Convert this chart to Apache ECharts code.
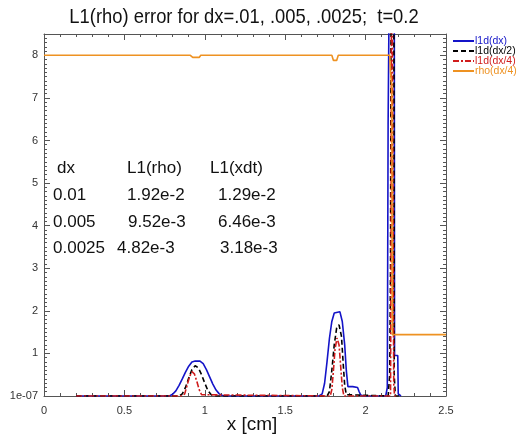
<!DOCTYPE html>
<html><head><meta charset="utf-8">
<script src="https://cdn.jsdelivr.net/npm/echarts@6/dist/echarts.min.js"></script>
<style>html,body{margin:0;padding:0;background:#fff}#c{width:517px;height:442px}</style>
</head><body><div id="c"></div>
<script>
// ---- data ----
const titleText = 'L1(rho) error for dx=.01, .005, .0025;  t=0.2';
const xName = 'x [cm]';
const seriesNames = ['l1d(dx)', 'l1d(dx/2)', 'l1d(dx/4)', 'rho(dx/4)'];
const xTicks = [0, 0.5, 1, 1.5, 2, 2.5];
const yTicks = [0, 1, 2, 3, 4, 5, 6, 7, 8];
const yZeroLabel = '1e-07';
const tableRows = [
  ['dx', 'L1(rho)', 'L1(xdt)'],
  ['0.01', '1.92e-2', '1.29e-2'],
  ['0.005', '9.52e-3', '6.46e-3'],
  ['0.0025', '4.82e-3', '3.18e-3']
];
const l1dDx = [[0.2,0],[0.78,0],[0.80,0.04],[0.82,0.12],[0.84,0.25],[0.86,0.4],[0.88,0.56],[0.90,0.7],[0.92,0.8],[0.94,0.82],[0.97,0.82],[0.99,0.76],[1.01,0.62],[1.03,0.45],[1.05,0.28],[1.07,0.14],[1.09,0.05],[1.11,0.01],[1.13,0],[1.71,0],[1.73,0.05],[1.745,0.3],[1.76,0.8],[1.775,1.35],[1.79,1.75],[1.805,1.95],[1.815,1.98],[1.84,1.98],[1.855,1.75],[1.87,1.2],[1.88,0.6],[1.89,0.22],[1.90,0.2],[1.92,0.22],[1.95,0.2],[1.96,0.1],[1.97,0.02],[1.99,0],[2.125,0],[2.135,0.2],[2.14,6.38],[2.15,6.38],[2.152,12],[2.178,12],[2.18,0.95],[2.2,0.95],[2.203,0.05],[2.22,0]];
const l1dDx2 = [[0.2,0],[0.84,0],[0.86,0.05],[0.88,0.2],[0.90,0.42],[0.92,0.62],[0.94,0.71],[0.96,0.66],[0.98,0.5],[1.00,0.3],[1.02,0.12],[1.04,0.03],[1.06,0],[1.76,0],[1.775,0.1],[1.79,0.6],[1.805,1.2],[1.82,1.6],[1.835,1.67],[1.85,1.4],[1.86,0.8],[1.87,0.25],[1.88,0.03],[1.89,0],[2.14,0],[2.15,0.5],[2.155,3],[2.16,12],[2.175,12],[2.178,0.5],[2.185,0],[2.22,0]];
const l1dDx4 = [[0.2,0],[0.86,0],[0.875,0.05],[0.89,0.25],[0.905,0.45],[0.92,0.57],[0.935,0.52],[0.95,0.35],[0.965,0.15],[0.98,0.03],[0.99,0],[1.78,0],[1.79,0.15],[1.80,0.6],[1.81,1.1],[1.822,1.36],[1.835,1.2],[1.845,0.7],[1.855,0.2],[1.865,0],[2.155,0],[2.158,3],[2.162,12],[2.172,12],[2.175,0.3],[2.18,0],[2.2,0]];
const rhoDx4 = [[0,8],[0.91,8],[0.925,7.95],[0.965,7.95],[0.975,8],[1.79,8],[1.80,7.88],[1.82,7.88],[1.83,8],[2.15,8],[2.155,7.6],[2.163,7.3],[2.166,1.44],[2.5,1.44]];
const colors = ['#1414c8', '#000000', '#d01c1c', '#ee9222'];

// ---- chart ----
const chart = echarts.init(document.getElementById('c'), null, {renderer: 'canvas'});
const axisCol = '#555';
const FONT = 'Liberation Sans';
const baseX = {
  type: 'value', min: 0, max: 2.5, interval: 0.5,
  axisLine: {show: true, onZero: false, lineStyle: {color: axisCol, width: 1}},
  axisTick: {show: true, inside: true, length: 6, lineStyle: {color: axisCol}},
  minorTick: {show: true, splitNumber: 5, length: 3, lineStyle: {color: axisCol}},
  splitLine: {show: false}
};
const baseY = {
  type: 'value', min: 0, max: 8.5, interval: 1,
  axisLine: {show: true, onZero: false, lineStyle: {color: axisCol, width: 1}},
  axisTick: {show: true, inside: true, length: 6, lineStyle: {color: axisCol}},
  minorTick: {show: true, splitNumber: 10, length: 3, lineStyle: {color: axisCol}},
  splitLine: {show: false}
};
const lbl = {fontFamily: FONT, fontSize: 11, color: '#333'};
const dataSets = [l1dDx, l1dDx2, l1dDx4, rhoDx4];
const lineTypes = ['solid', [5, 3], [6, 2, 2, 2], 'solid'];
const series = dataSets.map((d, i) => ({
  name: seriesNames[i], type: 'line', data: d, symbol: 'none', showSymbol: false,
  clip: true, animation: false,
  lineStyle: {color: colors[i], width: 1.6, type: lineTypes[i]},
  itemStyle: {color: colors[i]}
}));
const graphics = [
  {type: 'text', x: 244, y: 17, scaleX: 0.875, style: {text: titleText, fontFamily: FONT, fontSize: 21, fill: '#111', align: 'center', verticalAlign: 'middle'}},
  {type: 'text', x: 252, y: 425, style: {text: xName, fontFamily: FONT, fontSize: 19, fill: '#111', align: 'center', verticalAlign: 'middle'}}
];
const colX = [[57, 127, 210], [53, 127, 218], [53, 128, 218], [53, 117, 220]];
const rowY = [168, 195, 222, 248];
tableRows.forEach((row, r) => row.forEach((t, c) => {
  graphics.push({type: 'text', x: colX[r][c], y: rowY[r], style: {text: t, fontFamily: FONT, fontSize: 17, fill: '#111', align: 'left', verticalAlign: 'middle'}});
}));
// legend drawn as graphic samples + text
const legY = [41, 51, 61, 71];
seriesNames.forEach((n, i) => {
  const lt = lineTypes[i];
  graphics.push({type: 'line', shape: {x1: 453, y1: legY[i], x2: 474, y2: legY[i]},
    style: {stroke: colors[i], lineWidth: 2, lineDash: Array.isArray(lt) ? lt : null}});
  graphics.push({type: 'text', x: 475, y: legY[i], scaleX: 0.95, style: {text: n, fontFamily: FONT, fontSize: 11, fill: colors[i], align: 'left', verticalAlign: 'middle'}});
});
chart.setOption({
  backgroundColor: '#fff',
  animation: false,
  grid: {left: 44, right: 71, top: 34, bottom: 46, containLabel: false},
  xAxis: [
    Object.assign({}, baseX, {position: 'bottom', axisLabel: Object.assign({}, lbl, {margin: 9, formatter: v => xTicks.includes(v) ? String(v) : ''})}),
    Object.assign({}, baseX, {position: 'top', axisLabel: {show: false}})
  ],
  yAxis: [
    Object.assign({}, baseY, {position: 'left', axisLabel: Object.assign({}, lbl, {margin: 6, showMaxLabel: false, formatter: v => v === 0 ? yZeroLabel : (yTicks.includes(v) ? String(v) : '')})}),
    Object.assign({}, baseY, {position: 'right', axisLabel: {show: false}})
  ],
  series: series,
  graphic: graphics
});
</script></body></html>
